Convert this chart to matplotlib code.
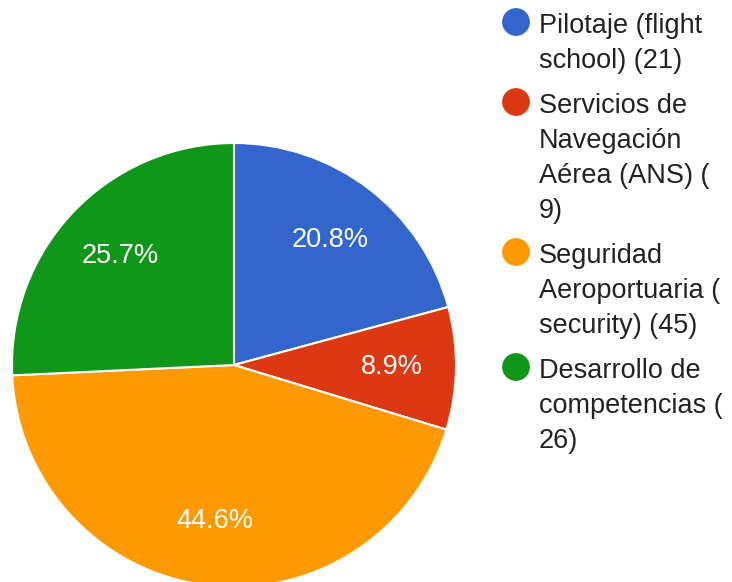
import matplotlib.pyplot as plt

plt.rcParams['font.family'] = ['Liberation Sans', 'DejaVu Sans']

categories = ["Pilotaje (flight school)", "Servicios de Navegación Aérea (ANS)",
              "Seguridad Aeroportuaria (security)", "Desarrollo de competencias"]
counts = [21, 9, 45, 26]
legend_lines = [
    ["Pilotaje (flight", "school) (21)"],
    ["Servicios de", "Navegación", "Aérea (ANS) (", "9)"],
    ["Seguridad", "Aeroportuaria (", "security) (45)"],
    ["Desarrollo de", "competencias (", "26)"],
]
colors = ["#3366cc", "#dc3912", "#ff9900", "#109618"]

W, H = 732, 582
fig = plt.figure(figsize=(W / 100, H / 100), dpi=100)

# pie axes: center (234, 365) px, radius 222 px
cx, cy, r = 234, 365, 222
ax = fig.add_axes([(cx - r) / W, (H - cy - r) / H, 2 * r / W, 2 * r / H])
wedges, texts, autotexts = ax.pie(
    counts, colors=colors, startangle=90, counterclock=False,
    autopct="%.1f%%", pctdistance=0.71,
    wedgeprops=dict(edgecolor="white", linewidth=1.5),
    textprops=dict(color="white", fontsize=19.5))
ax.set_xlim(-1, 1)
ax.set_ylim(-1, 1)
ax.set_aspect("equal")

# legend drawn in pixel coordinates
lg = fig.add_axes([0, 0, 1, 1])
lg.set_xlim(0, W)
lg.set_ylim(H, 0)
lg.axis("off")
lg.patch.set_alpha(0)

y = 33
line_h = 35
for lines, col in zip(legend_lines, colors):
    lg.scatter([516], [y - 11], s=400, color=col, edgecolors="none")
    for i, txt in enumerate(lines):
        lg.text(539, y + i * line_h, txt, fontsize=19.5, color="#222222",
                va="baseline", ha="left")
    y += (len(lines) - 1) * line_h + 45

fig.savefig("out.png", dpi=100)
